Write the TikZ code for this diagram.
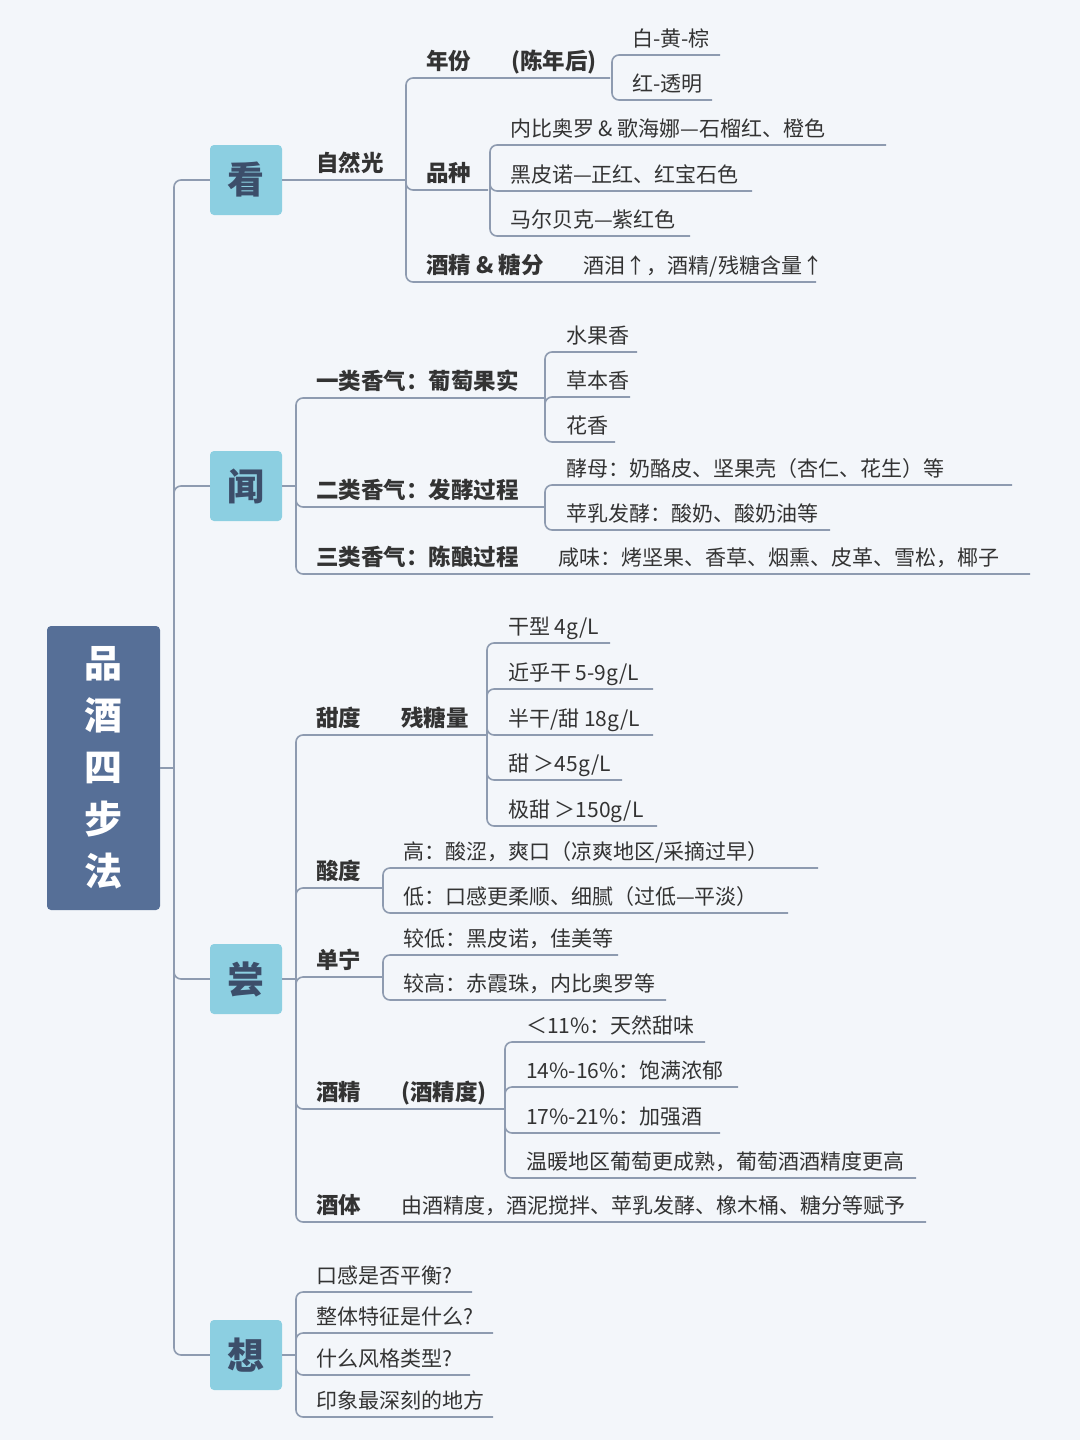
\documentclass[tikz,border=0pt]{standalone}
\usepackage{fontspec}
\setmainfont{Noto Sans CJK SC}
\definecolor{bgcol}{HTML}{F3F6FA}
\definecolor{rootcol}{HTML}{566F97}
\definecolor{boxcol}{HTML}{8CCFE1}
\definecolor{linecol}{HTML}{8E9BB0}
\definecolor{txtcol}{HTML}{333333}
\tikzset{
  branch/.style={draw=linecol, line width=1.6pt, rounded corners=7pt},
  lbl/.style={text=txtcol, inner sep=0pt, font=\fontsize{21}{24}\selectfont},
  bold/.style={lbl, font=\fontsize{22.5}{24}\selectfont\bfseries},
  stepbox/.style={fill=boxcol, rounded corners=4pt, minimum width=72pt, minimum height=70pt,
    text=rootcol!70!black, font=\fontsize{37}{40}\selectfont\bfseries},
}
\newcommand\gap{\hspace{40pt}}
\newcommand\thin{\fontsize{21}{24}\selectfont\mdseries}
% #1 name, #2 x of text, #3 underline y, #4 end x, #5 text, #6 style
\newcommand\twig[6]{%
  \node[#6, anchor=base west] (#1) at (#2, #3-9) {#5};
  \coordinate (#1e) at (#4,#3);}
\begin{document}
\begin{tikzpicture}[x=1pt, y=-1pt]
\fill[bgcol] (0,0) rectangle (1080,1440);
\useasboundingbox (0,0) rectangle (1080,1440);

% root and steps
\node[fill=rootcol, rounded corners=4pt, minimum width=113pt, minimum height=284pt,
  text=white, align=center, font=\fontsize{38}{52}\selectfont\bfseries] (root) at (103.5,768)
  {品\\酒\\四\\步\\法};
\node[stepbox] (see)   at (246,180)  {看};
\node[stepbox] (smell) at (246,486)  {闻};
\node[stepbox] (taste) at (246,979)  {尝};
\node[stepbox] (think) at (246,1355) {想};

\coordinate (rj) at (174,768);
\draw[branch] (root.east) -- (rj);
\foreach \s in {see,smell,taste,think}
  \draw[branch] (rj) |- (\s.west);

% ---- 看
\twig{light}{316}{180}{405}{自然光}{bold}
\draw[branch] (see.east) -- (lighte);
\coordinate (lj) at (406,180);
\twig{year}{426}{78}{610}{年份\gap(陈年后)}{bold}
\twig{grape}{426}{190}{488}{品种}{bold}
\twig{alc}{426}{282}{816}{酒精 \& 糖分\gap\thin 酒泪↑，酒精/残糖含量↑}{bold}
\foreach \c in {year,grape,alc} \draw[branch] (lj) |- (\c e);
\coordinate (yj) at (612,78);
\twig{wy}{632}{55}{720}{白-黄-棕}{lbl}
\twig{rt}{632}{100}{712}{红-透明}{lbl}
\foreach \c in {wy,rt} \draw[branch] (yj) |- (\c e);
\coordinate (gj) at (490,190);
\twig{nb}{510}{145}{886}{内比奥罗 \& 歌海娜—石榴红、橙色}{lbl}
\twig{pn}{510}{191}{752}{黑皮诺—正红、红宝石色}{lbl}
\twig{mb}{510}{236}{690}{马尔贝克—紫红色}{lbl}
\foreach \c in {nb,pn,mb} \draw[branch] (gj) |- (\c e);

% ---- 闻
\coordinate (sj) at (296,486);
\draw[branch] (smell.east) -- (sj);
\twig{aa}{316}{398}{545}{一类香气：葡萄果实}{bold}
\twig{ab}{316}{507}{545}{二类香气：发酵过程}{bold}
\twig{ac}{316}{574}{1030}{三类香气：陈酿过程\gap\thin 咸味：烤坚果、香草、烟熏、皮革、雪松，椰子}{bold}
\foreach \c in {aa,ab,ac} \draw[branch] (sj) |- (\c e);
\coordinate (aj) at (545,398);
\twig{fr}{566}{352}{637}{水果香}{lbl}
\twig{hb}{566}{397}{630}{草本香}{lbl}
\twig{fl}{566}{442}{615}{花香}{lbl}
\foreach \c in {fr,hb,fl} \draw[branch] (aj) |- (\c e);
\coordinate (bj) at (545,507);
\twig{ys}{566}{485}{1012}{酵母：奶酪皮、坚果壳（杏仁、花生）等}{lbl}
\twig{ml}{566}{530}{830}{苹乳发酵：酸奶、酸奶油等}{lbl}
\foreach \c in {ys,ml} \draw[branch] (bj) |- (\c e);

% ---- 尝
\coordinate (tj) at (296,979);
\draw[branch] (taste.east) -- (tj);
\twig{sw}{316}{735}{487}{甜度\gap 残糖量}{bold}
\twig{ac2}{316}{888}{383}{酸度}{bold}
\twig{tn}{316}{977}{383}{单宁}{bold}
\twig{al}{316}{1109}{505}{酒精\gap(酒精度)}{bold}
\twig{bd}{316}{1222}{926}{酒体\gap\thin 由酒精度，酒泥搅拌、苹乳发酵、橡木桶、糖分等赋予}{bold}
\foreach \c in {sw,ac2,tn,al,bd} \draw[branch] (tj) |- (\c e);
\coordinate (swj) at (487,735);
\twig{d1}{508}{643}{610}{干型 4g/L}{lbl}
\twig{d2}{508}{689}{653}{近乎干 5-9g/L}{lbl}
\twig{d3}{508}{735}{653}{半干/甜 18g/L}{lbl}
\twig{d4}{508}{780}{622}{甜 ＞45g/L}{lbl}
\twig{d5}{508}{826}{657}{极甜 ＞150g/L}{lbl}
\foreach \c in {d1,d2,d3,d4,d5} \draw[branch] (swj) |- (\c e);
\coordinate (acj) at (383,888);
\twig{hi}{403}{868}{818}{高：酸涩，爽口（凉爽地区/采摘过早）}{lbl}
\twig{lo}{403}{913}{788}{低：口感更柔顺、细腻（过低—平淡）}{lbl}
\foreach \c in {hi,lo} \draw[branch] (acj) |- (\c e);
\coordinate (tnj) at (383,977);
\twig{tl}{403}{955}{618}{较低：黑皮诺，佳美等}{lbl}
\twig{th}{403}{1000}{666}{较高：赤霞珠，内比奥罗等}{lbl}
\foreach \c in {tl,th} \draw[branch] (tnj) |- (\c e);
\coordinate (alj) at (505,1109);
\twig{p1}{526}{1042}{705}{＜11\%：天然甜味}{lbl}
\twig{p2}{526}{1087}{738}{14\%-16\%：饱满浓郁}{lbl}
\twig{p3}{526}{1133}{720}{17\%-21\%：加强酒}{lbl}
\twig{p4}{526}{1178}{916}{温暖地区葡萄更成熟，葡萄酒酒精度更高}{lbl}
\foreach \c in {p1,p2,p3,p4} \draw[branch] (alj) |- (\c e);

% ---- 想
\coordinate (kj) at (296,1355);
\draw[branch] (think.east) -- (kj);
\twig{q1}{316}{1292}{472}{口感是否平衡?}{lbl}
\twig{q2}{316}{1333}{493}{整体特征是什么?}{lbl}
\twig{q3}{316}{1375}{470}{什么风格类型?}{lbl}
\twig{q4}{316}{1417}{493}{印象最深刻的地方}{lbl}
\foreach \c in {q1,q2,q3,q4} \draw[branch] (kj) |- (\c e);
\end{tikzpicture}
\end{document}
